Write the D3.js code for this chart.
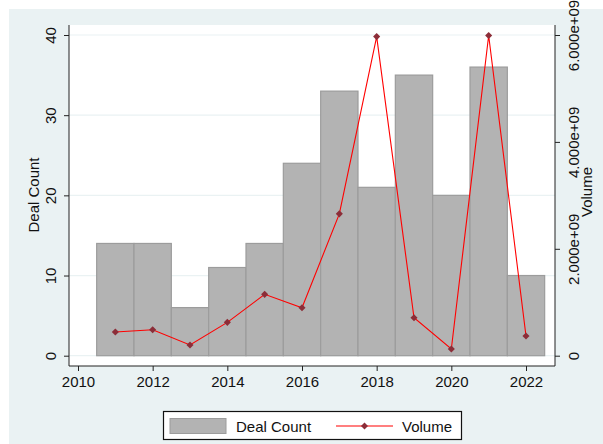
<!DOCTYPE html>
<html><head><meta charset="utf-8">
<script src="https://cdn.jsdelivr.net/npm/d3@7"></script>
<style>body{margin:0;background:#fff}svg{display:block}text{font-family:"Liberation Sans",Arial,sans-serif}</style>
</head><body>
<svg id="c" width="603" height="444"></svg>
<script>
const years = [2011,2012,2013,2014,2015,2016,2017,2018,2019,2020,2021,2022];
const dealCount = [14,14,6,11,14,24,33,21,35,20,36,10];
const volume = [0.443e9,0.486e9,0.20e9,0.624e9,1.148e9,0.897e9,2.654e9,5.97e9,0.71e9,0.125e9,5.99e9,0.368e9];
const xTicks = [2010,2012,2014,2016,2018,2020,2022];
const yLeftTicks = [0,10,20,30,40];
const yRightTicks = [0,2e9,4e9,6e9];
const yRightLabels = ["0","2.000e+09","4.000e+09","6.000e+09"];

const svg = d3.select("#c");
const bg = "#eaf2f3";
const P = {l:69, r:555, t:25, b:366};
svg.append("rect").attr("x",9).attr("y",9).attr("width",594).attr("height",435).attr("fill",bg);
svg.append("rect").attr("x",P.l).attr("y",P.t).attr("width",P.r-P.l).attr("height",P.b-P.t).attr("fill","#fff");

const x = d3.scaleLinear().domain([2010,2022]).range([78,526]);
const yL = d3.scaleLinear().domain([0,40]).range([355.7,35]);
const yR = d3.scaleLinear().domain([0,6e9]).range([355.7,35]);

// gridlines
svg.append("g").selectAll("line").data(yLeftTicks).join("line")
  .attr("x1",P.l).attr("x2",P.r).attr("y1",d=>yL(d)).attr("y2",d=>yL(d))
  .attr("stroke",bg).attr("stroke-width",1.2);

// bars
svg.append("g").selectAll("rect").data(years).join("rect")
  .attr("x",(d)=>x(d-0.5)).attr("width",(d)=>x(d+0.5)-x(d-0.5))
  .attr("y",(d,i)=>yL(dealCount[i])).attr("height",(d,i)=>yL(0)-yL(dealCount[i]))
  .attr("fill","#b3b3b3").attr("stroke","#9c9c9c").attr("stroke-width",1.2);

// line
const line = d3.line().x((d,i)=>x(years[i])).y(d=>yR(d));
svg.append("path").datum(volume).attr("d",line).attr("fill","none").attr("stroke","#ff0000").attr("stroke-width",1.1);
const diamond = d3.symbol().type(d3.symbolDiamond2).size(32);
svg.append("g").selectAll("path").data(volume).join("path")
  .attr("transform",(d,i)=>`translate(${x(years[i])},${yR(d)})`)
  .attr("d",diamond).attr("fill","#8c2d38");

const fs = 15;
const tc = "#111";
// left axis
const gL = svg.append("g").attr("transform",`translate(${P.l},0)`)
  .call(d3.axisLeft(yL).tickValues(yLeftTicks).tickSize(5).tickPadding(0).tickFormat(d3.format("d")));
gL.select(".domain").attr("d",`M0,${P.t}V${P.b}`).attr("stroke","#222");
gL.selectAll(".tick line").attr("stroke","#222");
gL.selectAll(".tick text").attr("font-size",fs).attr("fill",tc).attr("font-family","Liberation Sans, Arial")
  .attr("text-anchor","middle").attr("dy",null).attr("x",0).attr("y",0)
  .attr("transform","translate(-19,0) rotate(-90)").attr("dominant-baseline","central");

// right axis
const gR = svg.append("g").attr("transform",`translate(${P.r},0)`)
  .call(d3.axisRight(yR).tickValues(yRightTicks).tickSize(5).tickPadding(0).tickFormat((d,i)=>yRightLabels[i]));
gR.select(".domain").attr("d",`M0,${P.t}V${P.b}`).attr("stroke","#222");
gR.selectAll(".tick line").attr("stroke","#222");
gR.selectAll(".tick text").attr("font-size",fs).attr("fill",tc).attr("font-family","Liberation Sans, Arial")
  .attr("text-anchor","middle").attr("dy",null).attr("x",0).attr("y",0)
  .attr("transform","translate(18,0) rotate(-90)").attr("dominant-baseline","central");

// bottom axis
const gB = svg.append("g").attr("transform",`translate(0,${P.b})`)
  .call(d3.axisBottom(x).tickValues(xTicks).tickSize(5).tickPadding(5.5).tickFormat(d3.format("d")));
gB.select(".domain").attr("d",`M${P.l},0H${P.r}`).attr("stroke","#222");
gB.selectAll(".tick line").attr("stroke","#222");
gB.selectAll(".tick text").attr("font-size",fs).attr("fill",tc).attr("font-family","Liberation Sans, Arial");

// axis titles
svg.append("text").attr("transform","translate(33,195) rotate(-90)").attr("text-anchor","middle")
  .attr("dominant-baseline","central").attr("font-size",fs).attr("fill",tc).text("Deal Count");
svg.append("text").attr("transform","translate(586,192) rotate(-90)").attr("text-anchor","middle")
  .attr("dominant-baseline","central").attr("font-size",fs).attr("fill",tc).text("Volume");

// legend
const lg = svg.append("g");
lg.append("rect").attr("x",163.5).attr("y",411.5).attr("width",298).attr("height",28).attr("fill","#fff").attr("stroke","#111").attr("stroke-width",1.2);
lg.append("rect").attr("x",170).attr("y",418.5).attr("width",56).attr("height",15).attr("fill","#b3b3b3").attr("stroke","#9c9c9c");
lg.append("text").attr("x",236).attr("y",426).attr("dominant-baseline","central").attr("font-size",fs).attr("fill",tc).text("Deal Count");
lg.append("line").attr("x1",336).attr("x2",393).attr("y1",426).attr("y2",426).attr("stroke","#ff0000").attr("stroke-width",1.1);
lg.append("path").attr("transform","translate(364.5,426)").attr("d",diamond).attr("fill","#8c2d38");
lg.append("text").attr("x",402).attr("y",426).attr("dominant-baseline","central").attr("font-size",fs).attr("fill",tc).text("Volume");
</script>
</body></html>
